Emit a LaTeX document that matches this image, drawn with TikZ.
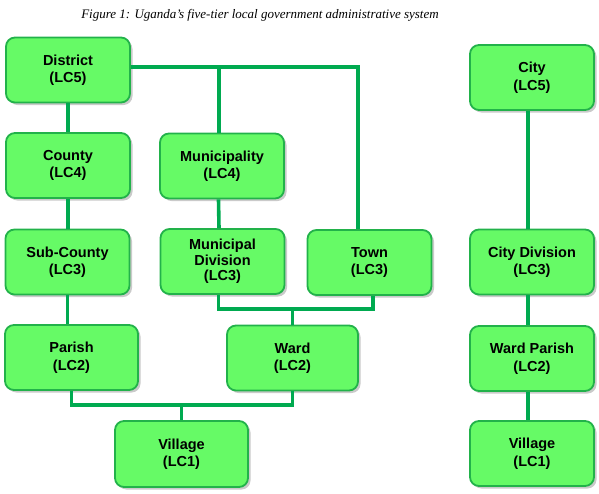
\documentclass[tikz,border=0pt]{standalone}
\usepackage{fontspec}
\setmainfont{Liberation Sans}
\newfontfamily\capfont{Liberation Serif}
\usetikzlibrary{shadows}
\definecolor{boxfill}{RGB}{102,250,102}
\definecolor{boxline}{RGB}{34,178,74}
\definecolor{conn}{RGB}{0,170,80}
\tikzset{
  unit/.style={draw=boxline, line width=1.8pt, fill=boxfill, rounded corners=9pt,
    minimum width=#1, minimum height=65pt, inner sep=0pt, align=center,
    font=\fontsize{14.5}{17.5}\selectfont\bfseries,
    drop shadow={shadow xshift=2.5pt, shadow yshift=-2.5pt, opacity=0.35, fill=black!60}},
  unit/.default=124pt,
  link/.style={draw=conn, line width=3.6pt}
}
\begin{document}
\begin{tikzpicture}[x=1pt,y=-1pt]
\useasboundingbox (0,0) rectangle (599,493);
\node[font=\capfont\itshape\fontsize{13}{15}\selectfont] (cap) at (260,15)
  {Figure 1: Uganda’s five-tier local government administrative system};
% left tree
\node[unit] (dist) at (68,70) {District\\(LC5)};
\node[unit] (county) at (68,165.5) {County\\(LC4)};
\node[unit] (muni) at (222,166) {Municipality\\(LC4)};
\node[unit] (sub) at (67.5,262) {Sub-County\\(LC3)};
\node[unit, font=\fontsize{14.5}{15.5}\selectfont\bfseries] (mdiv) at (222.5,261.5) {Municipal\\Division\\(LC3)};
\node[unit] (town) at (369.5,262.5) {Town\\(LC3)};
\node[unit=133pt] (parish) at (71.5,357.5) {Parish\\(LC2)};
\node[unit=131pt] (ward) at (292.5,358) {Ward\\(LC2)};
\node[unit=133pt, minimum height=66pt] (vil) at (181.5,454) {Village\\(LC1)};
% right tree
\node[unit] (city) at (532,77.5) {City\\(LC5)};
\node[unit] (cdiv) at (532,262) {City Division\\(LC3)};
\node[unit] (wpar) at (532,358.5) {Ward Parish\\(LC2)};
\node[unit] (vil2) at (532,453.5) {Village\\(LC1)};
% connectors
\coordinate (top) at (358,67);
\coordinate (mj) at (219,67);
\draw[link] (dist.east |- top) -- (top) -- (top |- town.north);
\draw[link] (mj) -- (mj |- muni.north);
\draw[link] (dist) -- (county);
\draw[link] (county) -- (county |- sub.north);
\draw[link] (sub.south) -- (sub.south |- parish.north);
\draw[link] ([xshift=-3.5pt]mdiv.north) -- ([xshift=-3.5pt]muni.south);
\coordinate (wj) at (292.5,309);
\draw[link] ([xshift=-4pt]mdiv.south) |- (wj) -| ([xshift=3.5pt]town.south);
\draw[link] (wj) -- (ward.north);
\coordinate (vj) at (181.5,405);
\draw[link] (parish.south) |- (vj) -| (ward.south);
\draw[link] (vj) -- (vil.north);
\draw[link] ([xshift=-4pt]city.south) -- ([xshift=-4pt]cdiv.north);
\draw[link] ([xshift=-4pt]cdiv.south) -- ([xshift=-4pt]wpar.north);
\draw[link] ([xshift=-4pt]wpar.south) -- ([xshift=-4pt]vil2.north);
\end{tikzpicture}
\end{document}
